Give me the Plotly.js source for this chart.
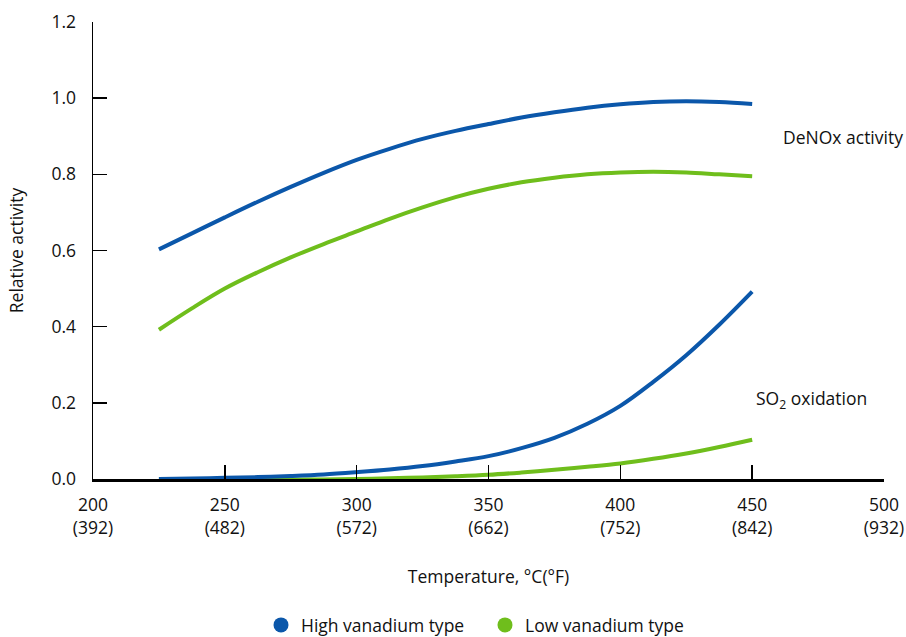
<!DOCTYPE html>
<html><head><meta charset="utf-8">
<script src="https://cdn.plot.ly/plotly-3.0.1.min.js"></script>
<style>body{margin:0;background:#fff}#chart{width:906px;height:637px}</style>
</head><body><div id="chart"></div>
<script>
const temps = [225, 237.5, 250, 262.5, 275, 287.5, 300, 312.5, 325, 337.5, 350, 362.5, 375, 387.5, 400, 412.5, 425, 437.5, 450];
const highDeNOx = [0.603, 0.645, 0.687, 0.728, 0.767, 0.804, 0.838, 0.867, 0.893, 0.914, 0.932, 0.949, 0.963, 0.975, 0.984, 0.99, 0.992, 0.99, 0.985];
const lowDeNOx  = [0.392, 0.448, 0.500, 0.543, 0.582, 0.617, 0.650, 0.683, 0.713, 0.740, 0.762, 0.779, 0.791, 0.80, 0.805, 0.807, 0.805, 0.80, 0.795];
const highSO2   = [0.0, 0.001, 0.003, 0.005, 0.008, 0.012, 0.018, 0.025, 0.034, 0.046, 0.06, 0.081, 0.108, 0.145, 0.192, 0.255, 0.325, 0.405, 0.492];
const lowSO2    = [0.0, -0.001, -0.002, -0.002, -0.002, -0.001, 0.0, 0.002, 0.004, 0.007, 0.011, 0.017, 0.024, 0.032, 0.041, 0.053, 0.067, 0.084, 0.103];
const xTickVals = [200, 250, 300, 350, 400, 450, 500];
const xTickText = ['200<br>(392)', '250<br>(482)', '300<br>(572)', '350<br>(662)', '400<br>(752)', '450<br>(842)', '500<br>(932)'];
const yTickVals = [0, 0.2, 0.4, 0.6, 0.8, 1.0, 1.2];
const seriesNames = ['High vanadium type', 'Low vanadium type'];
const blue = '#0b57aa', green = '#6fbe1c';
const F = '"Open Sans", sans-serif';
const FS = 17.5;

const line = (y, c) => ({x: temps, y: y, mode: 'lines', line: {color: c, width: 4, shape: 'spline', smoothing: 1}, showlegend: false, hoverinfo: 'skip'});
const traces = [
  line(lowSO2, green), line(highSO2, blue),
  line(lowDeNOx, green), line(highDeNOx, blue),
  {x: [null], y: [null], mode: 'markers', marker: {color: blue, size: 15}, name: seriesNames[0]},
  {x: [null], y: [null], mode: 'markers', marker: {color: green, size: 15}, name: seriesNames[1]}
];
const L = 93, R = 22, T = 22, B = 158;
const pw = 906 - L - R, ph = 637 - T - B;
const px = x => (x - L) / pw, py = y => (637 - B - y) / ph;
const layout = {
  width: 906, height: 637,
  margin: {l: L, r: R, t: T, b: B, autoexpand: false},
  paper_bgcolor: '#fff', plot_bgcolor: '#fff',
  font: {family: F, size: FS, color: '#111'},
  xaxis: {range: [200, 500], tickvals: xTickVals, ticktext: xTickText, showgrid: false, zeroline: false, automargin: false,
    showline: true, linecolor: '#000', linewidth: 3, ticks: 'inside', ticklen: 14, tickcolor: '#000', tickwidth: 1.5,
    ticklabelstandoff: 8, tickfont: {size: FS}, title: {text: 'Temperature, °C(°F)', font: {size: FS}, standoff: 33}},
  yaxis: {range: [0, 1.2], tickvals: yTickVals, tickformat: '.1f', showgrid: false, zeroline: false, automargin: false,
    showline: true, linecolor: '#000', linewidth: 1.5, ticks: 'inside', ticklen: 14, tickcolor: '#000', tickwidth: 1.5,
    ticklabelstandoff: 12, tickfont: {size: FS}, title: {text: 'Relative activity', font: {size: FS}, standoff: 23}},
  legend: {orientation: 'h', x: px(485), xanchor: 'center', y: py(625), yanchor: 'middle', font: {size: FS}, entrywidth: 179},
  annotations: [
    {x: px(843), y: py(137), xref: 'paper', yref: 'paper', xanchor: 'center', yanchor: 'middle', text: 'DeNOx activity', showarrow: false, font: {size: FS}},
    {x: px(811), y: py(399), xref: 'paper', yref: 'paper', xanchor: 'center', yanchor: 'middle', text: 'SO<sub>2</sub> oxidation', showarrow: false, font: {size: FS}}
  ]
};
Plotly.newPlot('chart', traces, layout, {displayModeBar: false, staticPlot: true});
</script></body></html>
